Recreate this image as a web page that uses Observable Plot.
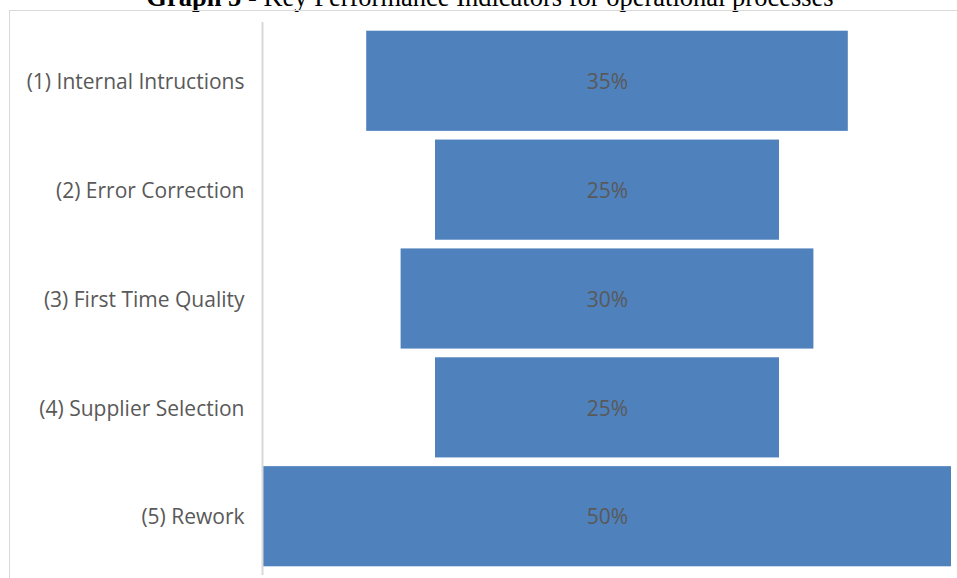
<!DOCTYPE html>
<html><head><meta charset="utf-8">
<script src="https://cdn.jsdelivr.net/npm/d3@7"></script>
<script src="https://cdn.jsdelivr.net/npm/@observablehq/plot@0.6"></script>
<style>
body{margin:0;background:#fff;}
#wrap{position:relative;width:957px;height:578px;overflow:hidden;background:#fff;}
#title{position:absolute;left:0;width:980px;top:-16px;line-height:26px;text-align:center;font-family:"Liberation Serif","Times New Roman",serif;font-size:26.5px;color:#000;white-space:nowrap;}
#frame{position:absolute;left:9px;top:10px;width:960px;height:600px;border-left:1px solid #d9d9d9;border-top:1px solid #d9d9d9;}
#chart{position:absolute;left:0;top:0;}
</style></head>
<body><div id="wrap"><div id="title"><b>Graph 5</b> - Key Performance Indicators for operational processes</div><div id="frame"></div><div id="chart"></div></div>
<script>
const categories = ["(1) Internal Intructions","(2) Error Correction","(3) First Time Quality","(4) Supplier Selection","(5) Rework"];
const values = [35, 25, 30, 25, 50];
const valueLabels = ["35%","25%","30%","25%","50%"];
const data = categories.map((c,i)=>({cat:c, v:values[i], label:valueLabels[i]}));
const maxV = d3.max(values);
const chart = Plot.plot({
  width: 957, height: 575,
  marginLeft: 263, marginRight: 6, marginTop: 22, marginBottom: 0,
  style: {fontFamily: "'Open Sans', sans-serif", background: "transparent"},
  x: {domain: [-maxV/2, maxV/2], axis: null},
  y: {domain: categories, padding: 0.08, round: false, label: null, tickSize: 0, tickPadding: 19},
  marks: [
    Plot.barX(data, {y: "cat", x1: d => -d.v/2, x2: d => d.v/2, fill: "#4f81bd"}),
    Plot.text(data, {y: "cat", x: 0, text: "label", fill: "#595959", fontSize: 21, dy: 1}),
    Plot.ruleX([-maxV/2], {stroke: "#d9d9d9", strokeWidth: 2, dx: -1}),
    Plot.axisY({tickSize: 0, tickPadding: 19, fontSize: 21, color: "#595959", label: null, dy: 1})
  ]
});
chart.querySelectorAll('[aria-label="y-axis tick label"] text').forEach(t=>t.setAttribute("fill","#595959"));
document.getElementById("chart").appendChild(chart);
</script></body></html>
